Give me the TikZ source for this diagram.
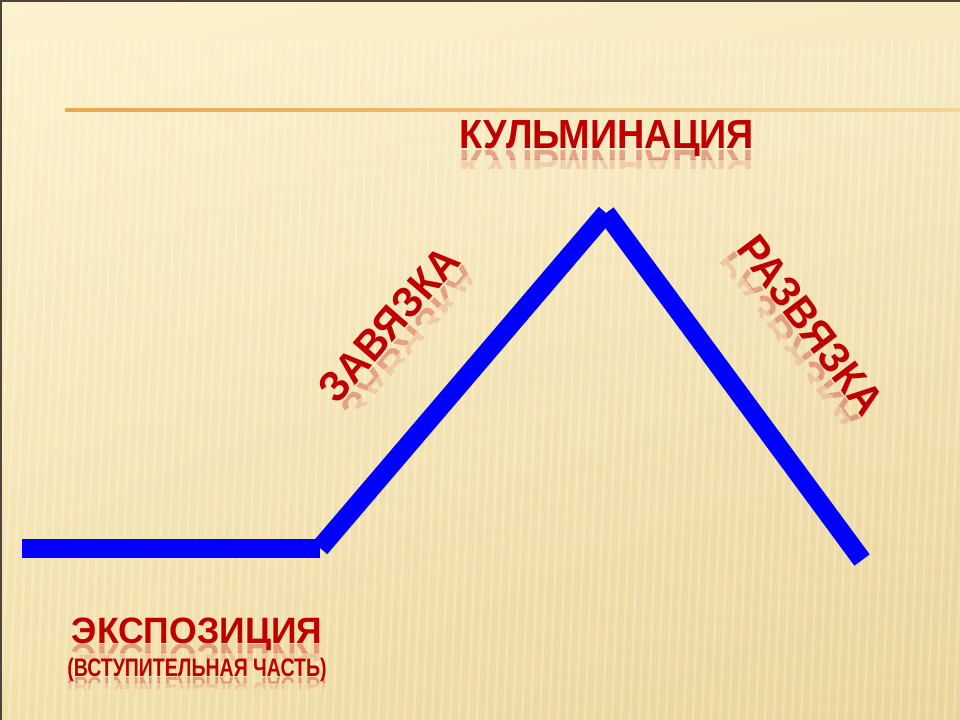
\documentclass[tikz,border=0pt]{standalone}
\usepackage{fontspec}
\setmainfont{Liberation Sans}
\usetikzlibrary{shadings}
\definecolor{bgA}{HTML}{FDF2CE}
\definecolor{bgB}{HTML}{F8EBC2}
\definecolor{bgC}{HTML}{F2E0AC}
\definecolor{bgD}{HTML}{E9D49B}
\definecolor{ttl}{HTML}{C00000}
\definecolor{lineblue}{HTML}{0000FF}
\definecolor{rulecol}{HTML}{E8A84C}
\definecolor{framecol}{HTML}{4A463C}
% name, x, y, angle, font size, horizontal scale, text
\newcommand\reflnode[7]{%
  \begin{scope}[shift={(#2,#3)}, rotate=#4]
    \begin{scope}
      \clip (-400,1) rectangle (400,{1+0.3*#5});
      \node[refltext, opacity=0.3, anchor=base, font=\bfseries\fontsize{#5}{#5}\selectfont] (#1r) at (0,1.5) {\scalebox{#6}[1]{#7}};
    \end{scope}
    \begin{scope}
      \clip (-400,{1+0.3*#5}) rectangle (400,{1+0.6*#5});
      \node[refltext, opacity=0.12, anchor=base, font=\bfseries\fontsize{#5}{#5}\selectfont] (#1s) at (0,1.5) {\scalebox{#6}[1]{#7}};
    \end{scope}
    \node[maintext, anchor=base, font=\bfseries\fontsize{#5}{#5}\selectfont] (#1) at (0,0) {\scalebox{#6}[1]{#7}};
  \end{scope}}
\begin{document}
\begin{tikzpicture}[x=0.75pt,y=-0.75pt,
  maintext/.style={text=ttl, inner sep=0pt, transform shape},
  refltext/.style={text=ttl, inner sep=0pt, yscale=-1, transform shape},
  plotline/.style={draw=lineblue, line width=14.25pt, line cap=butt},
  stripe/.style={draw=white, opacity=0.24, line width=1.8pt}]
\useasboundingbox (0,0) rectangle (960,720);
\begin{scope}
  \clip (0,0) rectangle (960,720);
  \shade[upper left=bgA, upper right=bgB, lower left=bgC, lower right=bgD] (0,0) rectangle (960,720);
  \foreach \i in {-6,...,110} {
    \draw[stripe] (\i*9+28,40) -- (\i*9,720);
  }
  \shade[left color=rulecol, right color=rulecol!35!bgB] (65,109) rectangle (960,111.5);
  \draw[draw=framecol, line width=2.4pt] (0,720) -- (0,0) -- (960,0);
\end{scope}
% plot line
\coordinate (s) at (22,548);
\coordinate (k) at (320,548);
\coordinate (p) at (606,213);
\coordinate (e) at (862,560);
\draw[plotline] (s) -- (k);
\draw[plotline] (k) -- (p);
\draw[plotline] (p) -- (e);
% labels
\reflnode{kulm}{607}{149}{0}{30.5}{0.93}{КУЛЬМИНАЦИЯ}
\reflnode{zav}{400}{334}{49}{32}{0.94}{ЗАВЯЗКА}
\reflnode{razv}{799}{334}{-53}{32}{0.94}{РАЗВЯЗКА}
\reflnode{eksp}{197}{643}{0}{27.5}{0.97}{ЭКСПОЗИЦИЯ}
\reflnode{vst}{197}{676}{0}{19}{0.77}{(ВСТУПИТЕЛЬНАЯ ЧАСТЬ)}
\end{tikzpicture}
\end{document}
